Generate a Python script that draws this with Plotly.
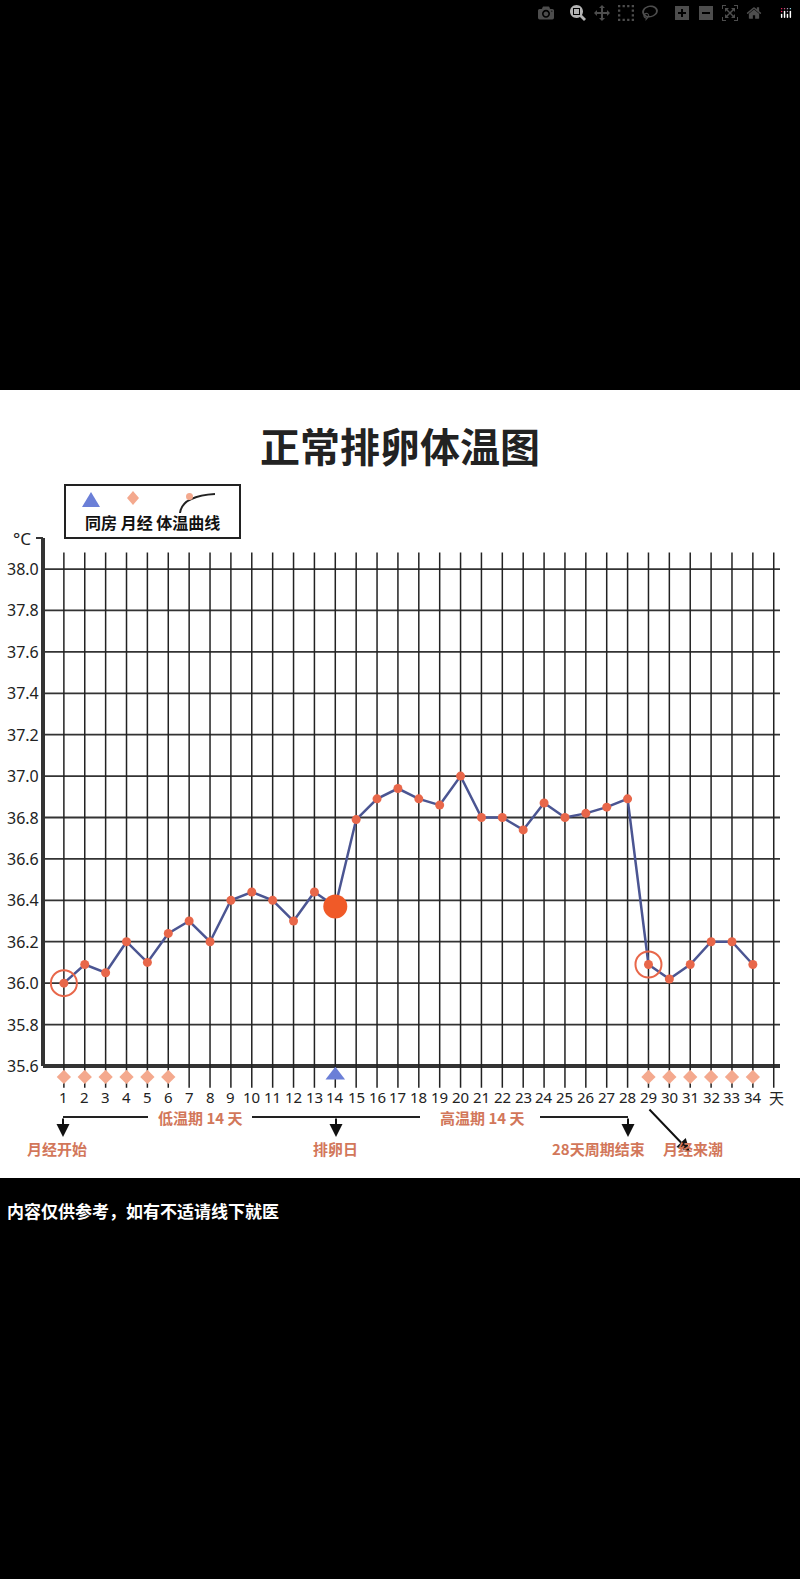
import plotly.graph_objects as go

days = list(range(1, 35))
temps = [36.0, 36.09, 36.05, 36.2, 36.1, 36.24, 36.3, 36.2, 36.4, 36.44, 36.4, 36.3, 36.44, 36.37,
         36.79, 36.89, 36.94, 36.89, 36.86, 37.0, 36.8, 36.8, 36.74, 36.87, 36.8, 36.82, 36.85, 36.89,
         36.09, 36.02, 36.09, 36.2, 36.2, 36.09]
menses_days = [1, 2, 3, 4, 5, 6, 29, 30, 31, 32, 33, 34]
sex_days = [14]
ovulation_day = 14
ring_days = [1, 29]
y_ticks = [35.6, 35.8, 36.0, 36.2, 36.4, 36.6, 36.8, 37.0, 37.2, 37.4, 37.6, 37.8, 38.0]
title = "正常排卵体温图"

L, R, T, B = 43, 780, 538, 1097
def px(x): return (x - L) / (R - L)
def py(y): return (B - y) / (B - T)

ORANGE = "#e8674a"
NAVY = "#4b5592"
PINK = "#f4a98e"
CJK = "Noto Sans CJK SC"
fig = go.Figure()
fig.add_trace(go.Scatter(x=days, y=temps, mode="lines+markers",
                         line=dict(color=NAVY, width=2.5),
                         marker=dict(color=ORANGE, size=9), showlegend=False))
fig.add_trace(go.Scatter(x=[ovulation_day], y=[temps[ovulation_day - 1]], mode="markers",
                         marker=dict(color="#f05a28", size=24), showlegend=False))
fig.add_trace(go.Scatter(x=ring_days, y=[temps[d - 1] for d in ring_days], mode="markers",
                         marker=dict(color="rgba(0,0,0,0)", size=26, line=dict(color=ORANGE, width=2)),
                         showlegend=False))
fig.add_trace(go.Scatter(x=menses_days, y=[35.547] * len(menses_days), mode="markers",
                         marker=dict(symbol="diamond", color=PINK, size=11), showlegend=False))
fig.add_trace(go.Scatter(x=sex_days, y=[35.555] * len(sex_days), mode="markers",
                         marker=dict(symbol="triangle-up", color="#6b7fd7", size=17), showlegend=False))

shapes = [dict(type="rect", xref="paper", yref="paper", x0=px(0), x1=px(800), y0=py(1178), y1=py(390),
               fillcolor="white", line_width=0, layer="below")]
for yv in y_ticks:
    shapes.append(dict(type="line", xref="x", yref="y", x0=0, x1=35.3, y0=yv, y1=yv,
                       line=dict(color="#333", width=4 if yv == 35.6 else 1.8), layer="below"))
for d in range(1, 36):
    shapes.append(dict(type="line", xref="x", yref="y", x0=d, x1=d, y0=35.495, y1=38.08,
                       line=dict(color="#222", width=1.5), layer="below"))
shapes.append(dict(type="line", xref="paper", yref="paper", x0=0, x1=0, y0=py(1066), y1=py(538),
                   line=dict(color="#333", width=4)))
shapes.append(dict(type="line", xref="paper", yref="paper", x0=px(36), x1=px(43), y0=py(538), y1=py(538),
                   line=dict(color="#333", width=2)))
# legend box
shapes.append(dict(type="rect", xref="paper", yref="paper", x0=px(65), x1=px(240), y0=py(538), y1=py(485),
                   line=dict(color="#222", width=2), fillcolor="white"))
shapes.append(dict(type="path", xref="paper", yref="paper",
                   path=f"M {px(180)},{py(513)} Q {px(182)},{py(496)} {px(215)},{py(494)}",
                   line=dict(color="#222", width=2)))
shapes.append(dict(type="circle", xref="paper", yref="paper", x0=px(186), x1=px(193), y0=py(500), y1=py(493),
                   fillcolor=PINK, line_width=0))
shapes.append(dict(type="path", xref="paper", yref="paper",
                   path=f"M {px(82)},{py(507)} L {px(100)},{py(507)} L {px(91)},{py(492)} Z",
                   fillcolor="#6b7fd7", line_width=0))
shapes.append(dict(type="path", xref="paper", yref="paper",
                   path=f"M {px(133)},{py(491)} L {px(139)},{py(498)} L {px(133)},{py(505)} L {px(127)},{py(498)} Z",
                   fillcolor=PINK, line_width=0))
for x0, x1 in [(63, 148), (252, 420), (540, 628)]:
    shapes.append(dict(type="line", xref="paper", yref="paper", x0=px(x0), x1=px(x1), y0=py(1117), y1=py(1117),
                       line=dict(color="#222", width=2)))

ann = []
def text(t, x, y, size, color="#222", family=CJK, xanchor="center", xref="paper", yref="paper"):
    ann.append(dict(text=t, xref=xref, yref=yref, x=x, y=y, showarrow=False, xanchor=xanchor,
                    yanchor="middle", font=dict(size=size, color=color, family=family)))

text(f"<b>{title}</b>", px(400), py(445), 40)
text("<b>同房 月经 体温曲线</b>", px(152), py(522), 16, "#111")
text("°C", px(33), py(538), 17, family="Noto Sans", xanchor="right")
for yv in y_ticks:
    text(f"{yv:.1f}", px(41), yv, 16, family="Noto Sans", xanchor="right", yref="y")
for d in days:
    text(str(d), d, py(1097), 15, family="Noto Sans", xref="x")
text("天", px(776), py(1097), 15)
for xx in [63, 336, 628]:
    ann.append(dict(text="", xref="paper", yref="paper", x=px(xx), y=py(1137), ax=0, ay=-20, showarrow=True,
                    arrowhead=2, arrowsize=1.3, arrowwidth=2, arrowcolor="#111"))
ann.append(dict(text="", xref="paper", yref="paper", x=px(690), y=py(1152), ax=-42, ay=-44, showarrow=True,
                arrowhead=2, arrowsize=1.3, arrowwidth=2, arrowcolor="#111"))
BR = "#d2775a"
for t, x, y in [("低温期 14 天", 200, 1117), ("高温期 14 天", 483, 1117), ("月经开始", 57, 1148),
                ("排卵日", 335, 1148), ("28天周期结束", 598, 1148), ("月经来潮", 693, 1148)]:
    text(f"<b>{t}</b>", px(x), py(y), 15, BR)
text("<b>内容仅供参考，如有不适请线下就医</b>", px(5), py(1210), 17, "white", xanchor="left")

fig.update_layout(width=800, height=1579, paper_bgcolor="black", plot_bgcolor="white",
                  margin=dict(l=L, r=800 - R, t=T, b=1579 - B),
                  xaxis=dict(range=[0, 35.3], visible=False, fixedrange=True),
                  yaxis=dict(range=[35.45, 38.15], visible=False),
                  shapes=shapes, annotations=ann)
fig.write_html("out.html")
with open("out.html", encoding="utf-8") as f:
    html = f.read()
html = html.replace("<head>", "<head><style>body{margin:0;background:black;}</style>", 1)
with open("out.html", "w", encoding="utf-8") as f:
    f.write(html)
